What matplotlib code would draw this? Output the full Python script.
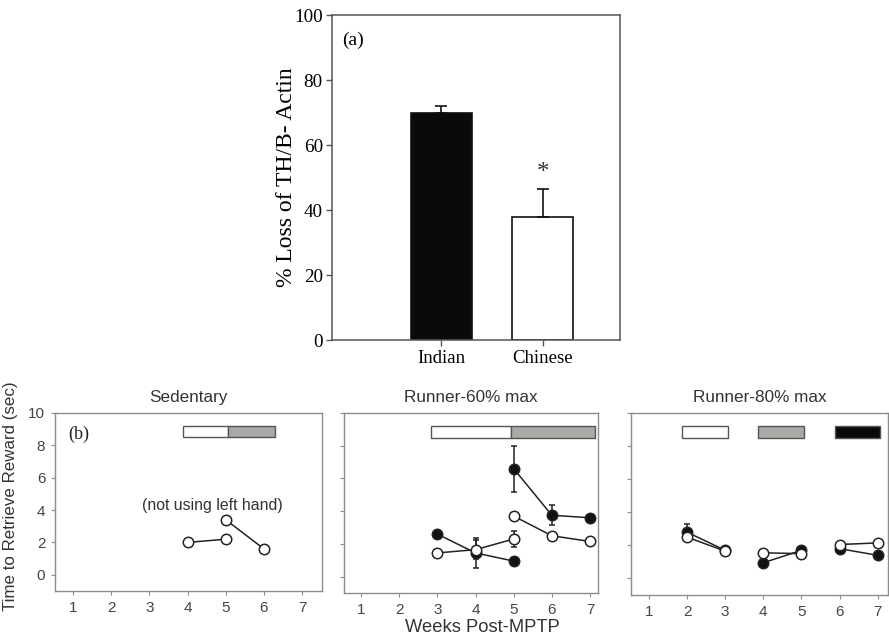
import matplotlib
matplotlib.use("Agg")
import matplotlib.pyplot as plt

# ---------------- data ----------------
# panel (a)
groups = ["Indian", "Chinese"]
loss_mean = [70.0, 38.0]
loss_err = [2.0, 8.5]
loss_colors = ["#0a0a0a", "#ffffff"]

# panel (b) -- weeks
sed_open_a_x = [4, 5]
sed_open_a_y = [2.0, 2.2]
sed_open_b_x = [5, 6]
sed_open_b_y = [3.4, 1.6]

r60_fill_a_x = [3, 4, 5]
r60_fill_a_y = [2.6, 1.45, 0.95]
r60_fill_a_e = [0.0, 0.9, 0.0]
r60_fill_b_x = [5, 6, 7]
r60_fill_b_y = [6.6, 3.75, 3.6]
r60_fill_b_e = [1.4, 0.6, 0.0]
r60_open_a_x = [3, 4, 5]
r60_open_a_y = [1.45, 1.65, 2.3]
r60_open_a_e = [0.0, 0.6, 0.5]
r60_open_b_x = [5, 6, 7]
r60_open_b_y = [3.7, 2.5, 2.15]

r80_fill_x = [[2, 3], [4, 5], [6, 7]]
r80_fill_y = [[2.8, 1.7], [0.95, 1.7], [1.8, 1.4]]
r80_fill_e = [[0.5, 0.0], [0.0, 0.0], [0.0, 0.0]]
r80_open_x = [[2, 3], [4, 5], [6, 7]]
r80_open_y = [[2.5, 1.65], [1.55, 1.5], [2.05, 2.15]]

# treatment-period bars: (start, end, colour)
sed_periods = [(3.88, 5.05, "#ffffff"), (5.05, 6.3, "#a9aaa6")]
r60_periods = [(2.83, 4.93, "#ffffff"), (4.93, 7.13, "#a9aaa6")]
r80_periods = [(1.87, 3.07, "#ffffff"), (3.87, 5.08, "#a9aaa6"), (5.87, 7.07, "#0a0a0a")]

weeks_ticks = [1, 2, 3, 4, 5, 6, 7]
b_yticks = [0, 2, 4, 6, 8, 10]
a_yticks = [0, 20, 40, 60, 80, 100]

# ---------------- figure ----------------
fig = plt.figure(figsize=(8.89, 6.36), dpi=100)

serif = "Liberation Serif"
sans = "Liberation Sans"

# panel (a)
axa = fig.add_axes([0.3740, 0.4654, 0.3234, 0.5110])
axa.bar([1, 2], loss_mean, width=0.6, color=loss_colors, edgecolor="#111111",
        linewidth=1.2, zorder=2)
axa.errorbar([1, 2], loss_mean, yerr=[[0, 0], loss_err], fmt="none",
             ecolor="#111111", elinewidth=1.2, capsize=4, capthick=1.2, zorder=3)
axa.text(2, loss_mean[1] + loss_err[1] + 1.5, "*", ha="center", va="bottom",
         fontsize=18, family=serif, color="#333333")
axa.set_xlim(-0.07, 2.76)
axa.set_ylim(0, 100)
axa.set_xticks([1, 2])
axa.set_xticklabels(groups, family=serif, fontsize=13.5)
axa.set_yticks(a_yticks)
axa.set_yticklabels([str(v) for v in a_yticks], family=serif, fontsize=13.8)
axa.set_ylabel("% Loss of TH/B- Actin", family=serif, fontsize=17, labelpad=-2)
axa.text(0.035, 0.95, "(a)", transform=axa.transAxes, ha="left", va="top",
         family=serif, fontsize=14)
for s in axa.spines.values():
    s.set_color("#555555")
    s.set_linewidth(1.1)
axa.tick_params(direction="out", length=4, color="#555555", width=1, pad=3)

# panel (b)
spine_c = "#8c8c8c"
tick_c = "#444444"


def setup(ax, xlim, title, show_ylabels):
    ax.set_xlim(*xlim)
    ax.set_ylim(-1, 10)
    ax.set_xticks(weeks_ticks)
    ax.set_xticklabels([str(w) for w in weeks_ticks], family=sans, fontsize=11,
                       color=tick_c)
    ax.set_yticks(b_yticks)
    if show_ylabels:
        ax.set_yticklabels([str(v) for v in b_yticks], family=sans, fontsize=11,
                           color=tick_c)
    else:
        ax.set_yticklabels([])
    for s in ax.spines.values():
        s.set_color(spine_c)
        s.set_linewidth(1.0)
    ax.tick_params(direction="out", length=3, color=spine_c, width=0.8, pad=4)
    ax.set_title(title, family=sans, fontsize=12.3, color="#333333", pad=8)


def periods(ax, plist):
    for (a, b, c) in plist:
        ax.barh(8.85, b - a, left=a, height=0.7, color=c, edgecolor="#555555",
                linewidth=1.0, zorder=2)


def line(ax, x, y, filled, e=None):
    fc = "#111111" if filled else "#ffffff"
    if e is not None:
        ax.errorbar(x, y, yerr=e, fmt="none", ecolor="#222222", elinewidth=1.1,
                    capsize=2.5, capthick=1.1, zorder=2)
    ax.plot(x, y, "-", color="#222222", lw=1.1, marker="o", ms=7.5,
            mfc=fc, mec="#222222", mew=1.1, zorder=3)


ax1 = fig.add_axes([0.0619, 0.0708, 0.3003, 0.2799])
setup(ax1, (0.53, 7.52), "Sedentary", True)
periods(ax1, sed_periods)
line(ax1, sed_open_a_x, sed_open_a_y, False)
line(ax1, sed_open_b_x, sed_open_b_y, False)
ax1.text(4.64, 4.3, "(not using left hand)", ha="center", va="center",
         family=sans, fontsize=11.4, color="#333333")
ax1.text(0.05, 0.93, "(b)", transform=ax1.transAxes, ha="left", va="top",
         family=serif, fontsize=13, color="#222222")
ax1.set_ylabel("Time to Retrieve Reward (sec)", family=sans, fontsize=12.2,
               color="#333333")
ax1.yaxis.set_label_coords(-0.14, 0.535)

ax2 = fig.add_axes([0.3870, 0.0676, 0.2857, 0.2830])
setup(ax2, (0.555, 7.21), "Runner-60% max", False)
periods(ax2, r60_periods)
line(ax2, r60_fill_a_x, r60_fill_a_y, True, r60_fill_a_e)
line(ax2, r60_fill_b_x, r60_fill_b_y, True, r60_fill_b_e)
line(ax2, r60_open_a_x, r60_open_a_y, False, r60_open_a_e)
line(ax2, r60_open_b_x, r60_open_b_y, False)
fig.text(0.543, 1 - 628 / 636, "Weeks Post-MPTP", ha="center", va="center",
         family=sans, fontsize=13.2, color="#333333")

ax3 = fig.add_axes([0.7098, 0.0645, 0.2890, 0.2860])
setup(ax3, (0.53, 7.27), "Runner-80% max", False)
periods(ax3, r80_periods)
for xs, ys, es in zip(r80_fill_x, r80_fill_y, r80_fill_e):
    line(ax3, xs, ys, True, es)
for xs, ys in zip(r80_open_x, r80_open_y):
    line(ax3, xs, ys, False)

fig.savefig("out.png", dpi=100)
